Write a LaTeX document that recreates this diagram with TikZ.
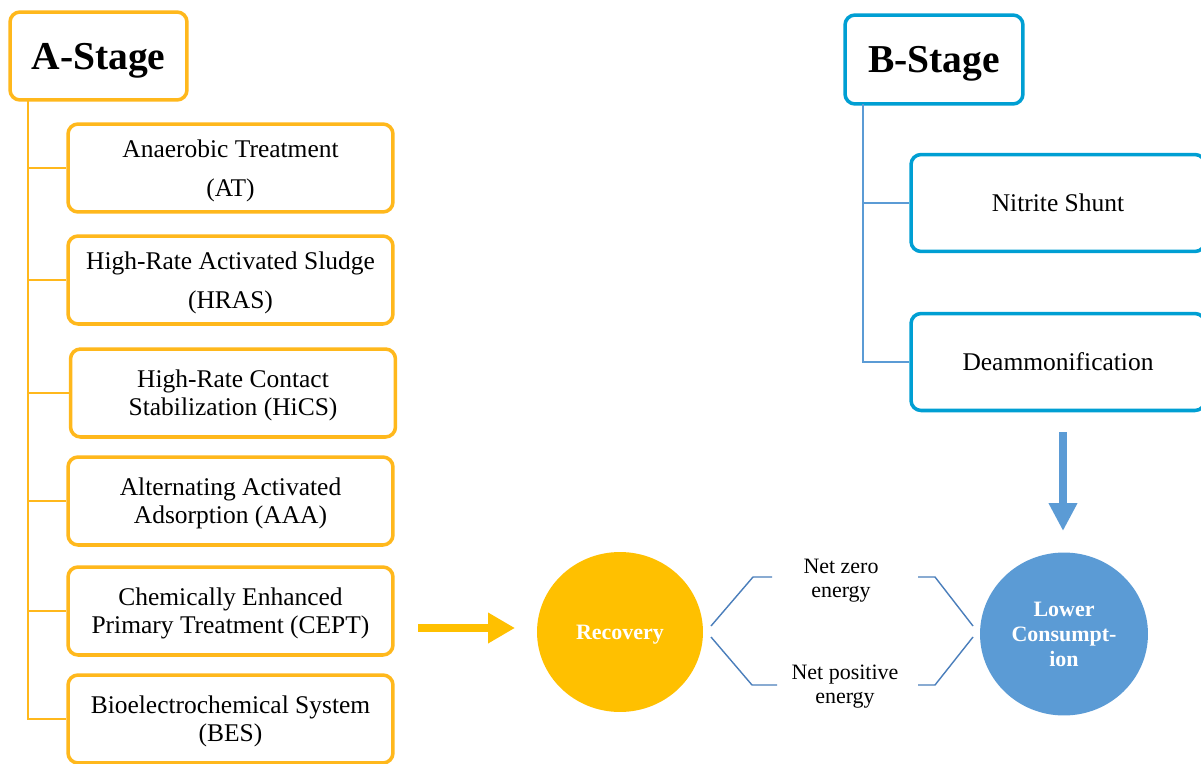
\documentclass[tikz,border=0pt]{standalone}
\usepackage{fontspec}
\setmainfont{Liberation Serif}
\usetikzlibrary{arrows.meta,shapes.geometric,calc}
\definecolor{aorange}{HTML}{FFB81C}
\definecolor{rfill}{HTML}{FFC000}
\definecolor{bblue}{HTML}{009FD3}
\definecolor{lblue}{HTML}{5B9BD5}
\definecolor{brk}{HTML}{4A7EBB}
\tikzset{
  stagebox/.style={rounded corners=0.2cm, line width=2pt, fill=white, align=center,
    inner sep=0pt, text depth=0pt, font=\fontsize{22.5}{27}\selectfont\bfseries},
  abox/.style={draw=aorange, rounded corners=0.2cm, line width=2pt, fill=white,
    minimum width=6.5cm, minimum height=1.76cm, align=center, inner sep=0pt,
    text depth=0pt, font=\fontsize{14.5}{16}\selectfont},
  aboxwide/.style={abox, font=\fontsize{14.5}{22}\selectfont},
  bbox/.style={draw=bblue, rounded corners=0.2cm, line width=2pt, fill=white,
    minimum width=5.88cm, minimum height=1.94cm, align=center, inner sep=0pt,
    font=\fontsize{14.5}{16}\selectfont},
  aline/.style={draw=aorange, line width=1.1pt},
  bline/.style={draw=lblue, line width=0.9pt},
  brline/.style={draw=brk, line width=0.8pt},
  circ/.style={ellipse, inner sep=0pt, align=center, text=white, text depth=0pt,
    font=\fontsize{12.5}{14.2}\selectfont\bfseries},
  note/.style={align=center, inner sep=0pt, text depth=0pt, font=\fontsize{12.5}{13.6}\selectfont},
}
\begin{document}
\begin{tikzpicture}[x=0.02cm,y=-0.02cm]
\clip (0,0) rectangle (1201,764);
\fill[white] (0,0) rectangle (1201,764);

% A-stage
\node[stagebox, draw=aorange, minimum width=3.54cm, minimum height=1.76cm] (astage) at (98.5,56) {A-Stage};
\coordinate (aspine) at (28,100);
\node[aboxwide] (at)   at (230.5,168) {Anaerobic Treatment\\(AT)};
\node[aboxwide] (hras) at (230.5,280) {High-Rate Activated Sludge\\(HRAS)};
\node[abox] (hics) at (233,393) {High-Rate Contact\\Stabilization (HiCS)};
\node[abox] (aaa)  at (230.5,501) {Alternating Activated\\Adsorption (AAA)};
\node[abox] (cept) at (230.5,611) {Chemically Enhanced\\Primary Treatment (CEPT)};
\node[abox] (bes)  at (230.5,719) {Bioelectrochemical System\\(BES)};
\draw[aline] (aspine) |- (bes.west);
\foreach \n in {at,hras,hics,aaa,cept} { \draw[aline] (aspine) |- (\n.west); }

% B-stage
\node[stagebox, draw=bblue, minimum width=3.56cm, minimum height=1.78cm] (bstage) at (934,59.5) {B-Stage};
\coordinate (bspine) at (863,104);
\node[bbox] (ns) at (1058,203) {Nitrite Shunt};
\node[bbox] (dm) at (1058,362) {Deammonification};
\draw[bline] (bspine) |- (dm.west);
\draw[bline] (bspine) |- (ns.west);

% circles
\node[circ, fill=rfill, minimum width=3.32cm, minimum height=3.2cm] (rec) at (620,632) {Recovery};
\node[circ, fill=lblue, minimum width=3.36cm, minimum height=3.26cm] (low) at (1064,634) {Lower\\Consumpt-\\ion};

% arrows
\coordinate (oa1) at (418,628);
\coordinate (oa2) at (515,628);
\draw[draw=rfill, line width=0.16cm, -{Triangle[length=0.54cm,width=0.58cm]}] (oa1) -- (oa2);
\coordinate (ba1) at (1063,432);
\coordinate (ba2) at (1063,531);
\draw[draw=lblue, line width=0.15cm, -{Triangle[length=0.56cm,width=0.54cm]}] (ba1) -- (ba2);

% brackets
\node[note] (nz) at (841,578) {Net zero\\energy};
\node[note] (np) at (845,684) {Net positive\\energy};
\coordinate (ul1) at (711,626); \coordinate (ul2) at (753,577); \coordinate (ul3) at (772,577);
\coordinate (ur1) at (918,577); \coordinate (ur2) at (935,577); \coordinate (ur3) at (973,626);
\coordinate (ll1) at (711,637); \coordinate (ll2) at (752,685); \coordinate (ll3) at (777,685);
\coordinate (lr1) at (918,685); \coordinate (lr2) at (935,685); \coordinate (lr3) at (973,637);
\draw[brline] (ul1) -- (ul2) -- (ul3);
\draw[brline] (ur1) -- (ur2) -- (ur3);
\draw[brline] (ll1) -- (ll2) -- (ll3);
\draw[brline] (lr1) -- (lr2) -- (lr3);
\end{tikzpicture}
\end{document}
